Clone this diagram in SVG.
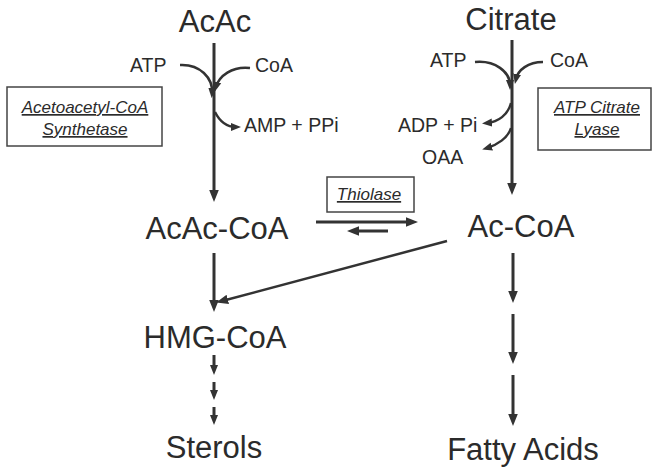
<svg xmlns="http://www.w3.org/2000/svg" width="659" height="469" viewBox="0 0 659 469">
<style>
.main{font-family:"Liberation Sans",Arial,sans-serif;font-size:31px;fill:#2b2b2b;text-anchor:middle}
.sm{font-family:"Liberation Sans",Arial,sans-serif;font-size:19.5px;fill:#2b2b2b}
.enz{font-family:"Liberation Sans",Arial,sans-serif;font-size:17px;font-style:italic;fill:#2b2b2b;text-anchor:middle;text-decoration:underline}
.box{fill:#fff;stroke:#444;stroke-width:1.5}
.ln{fill:none;stroke:#333;stroke-width:3}
.cv{fill:none;stroke:#333;stroke-width:2.5}
</style>
<defs>
<marker id="ah" viewBox="0 0 10 10" refX="5" refY="5" markerWidth="12" markerHeight="12" markerUnits="userSpaceOnUse" orient="auto"><path d="M0,1 L10,5 L0,9 z" fill="#333"/></marker>
<marker id="ahs" viewBox="0 0 10 10" refX="5" refY="5" markerWidth="10" markerHeight="10" markerUnits="userSpaceOnUse" orient="auto"><path d="M0,1 L10,5 L0,9 z" fill="#333"/></marker>
</defs>
<g id="connectors">
<line class="ln" x1="214" y1="43" x2="214" y2="196" marker-end="url(#ah)"/>
<line class="ln" x1="512" y1="40" x2="512" y2="189" marker-end="url(#ah)"/>
<path class="cv" d="M180,65 C200,64 213,78 212,93" marker-end="url(#ahs)"/>
<path class="cv" d="M250,68 C232,66 219,76 216,87" marker-end="url(#ahs)"/>
<path class="cv" d="M215,112 C220,122 228,127 236,127" marker-end="url(#ahs)"/>
<path class="cv" d="M475,62 C495,60 510,72 510,85" marker-end="url(#ahs)"/>
<path class="cv" d="M543,62 C528,62 518,70 516,79" marker-end="url(#ahs)"/>
<path class="cv" d="M511,103 C508,115 498,122 487,123" marker-end="url(#ahs)"/>
<path class="cv" d="M511,128 C508,138 497,145 487,148" marker-end="url(#ahs)"/>
<line class="ln" x1="316" y1="222" x2="412" y2="222" marker-end="url(#ah)"/>
<line class="ln" x1="388" y1="231" x2="353" y2="231" marker-end="url(#ah)"/>
<line class="ln" x1="214" y1="253" x2="214" y2="306" marker-end="url(#ah)"/>
<line class="cv" x1="447" y1="241" x2="222" y2="301" marker-end="url(#ah)"/>
<line class="ln" x1="214" y1="355" x2="214" y2="370" marker-end="url(#ahs)"/>
<line class="ln" x1="214" y1="382" x2="214" y2="395" marker-end="url(#ahs)"/>
<line class="ln" x1="214" y1="407" x2="214" y2="420" marker-end="url(#ahs)"/>
<line class="ln" x1="513" y1="253" x2="513" y2="297" marker-end="url(#ah)"/>
<line class="ln" x1="513" y1="314" x2="513" y2="358" marker-end="url(#ah)"/>
<line class="ln" x1="513" y1="375" x2="513" y2="420" marker-end="url(#ah)"/>
</g>
<g id="acac"><text class="main" x="215" y="32">AcAc</text></g>
<g id="citrate"><text class="main" x="511" y="30">Citrate</text></g>
<g id="acaccoa"><text class="main" x="217" y="239">AcAc-CoA</text></g>
<g id="accoa"><text class="main" x="521" y="237">Ac-CoA</text></g>
<g id="hmgcoa"><text class="main" x="215" y="348">HMG-CoA</text></g>
<g id="sterols"><text class="main" x="214" y="458">Sterols</text></g>
<g id="fattyacids"><text class="main" x="523" y="460">Fatty Acids</text></g>
<g id="atp-left"><text class="sm" x="130" y="72">ATP</text></g>
<g id="coa-left"><text class="sm" x="255" y="72">CoA</text></g>
<g id="amp-ppi"><text class="sm" x="244" y="132">AMP + PPi</text></g>
<g id="atp-right"><text class="sm" x="430" y="67">ATP</text></g>
<g id="coa-right"><text class="sm" x="550" y="67">CoA</text></g>
<g id="adp-pi"><text class="sm" x="398" y="132">ADP + Pi</text></g>
<g id="oaa"><text class="sm" x="422" y="164">OAA</text></g>
<g id="acs-box"><rect class="box" x="7" y="87" width="155" height="59"/><text class="enz" x="85" y="113">Acetoacetyl-CoA</text><text class="enz" x="85" y="135">Synthetase</text></g>
<g id="acl-box"><rect class="box" x="538" y="88" width="113" height="62"/><text class="enz" x="597" y="113">ATP Citrate</text><text class="enz" x="597" y="135">Lyase</text></g>
<g id="thiolase-box"><rect class="box" x="327" y="177" width="87" height="35"/><text class="enz" x="369" y="200">Thiolase</text></g>
</svg>
